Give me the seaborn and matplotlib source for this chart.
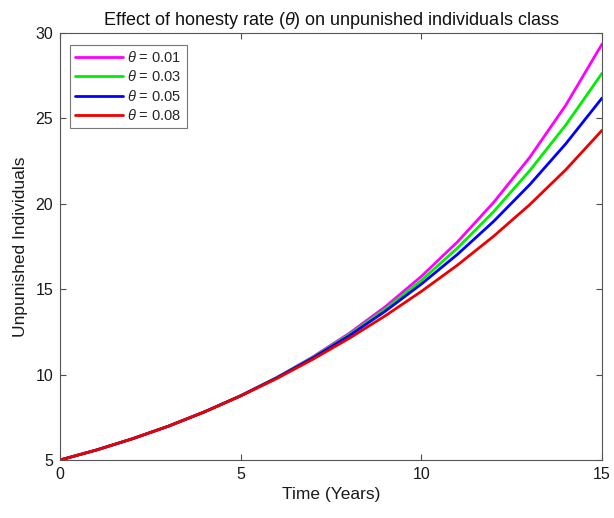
import numpy as np
import pandas as pd
import matplotlib
matplotlib.use("Agg")
import matplotlib.pyplot as plt
import seaborn as sns

# ---- data ----
time_years = [0, 1, 2, 3, 4, 5, 6, 7, 8, 9, 10, 11, 12, 13, 14, 15]
theta_labels = ["0.01", "0.03", "0.05", "0.08"]
u_theta_001 = [5.0, 5.58, 6.24, 6.98, 7.82, 8.76, 9.83, 11.04, 12.41, 13.97, 15.75, 17.77, 20.08, 22.72, 25.78, 29.35]
u_theta_003 = [5.0, 5.58, 6.24, 6.98, 7.82, 8.76, 9.82, 11.01, 12.34, 13.83, 15.51, 17.41, 19.54, 21.94, 24.62, 27.64]
u_theta_005 = [5.0, 5.58, 6.24, 6.98, 7.82, 8.76, 9.81, 10.98, 12.27, 13.71, 15.30, 17.04, 18.97, 21.12, 23.52, 26.19]
u_theta_008 = [5.0, 5.58, 6.24, 6.98, 7.82, 8.75, 9.77, 10.90, 12.12, 13.44, 14.87, 16.41, 18.10, 19.95, 22.00, 24.30]
series = [u_theta_001, u_theta_003, u_theta_005, u_theta_008]
line_colors = ["#ff00ff", "#00ee00", "#0000ff", "#ee0000"]

rows = []
for lab, vals in zip(theta_labels, series):
    name = r"$\theta$ = " + lab
    for t, v in zip(time_years, vals):
        rows.append({"Time": t, "Value": v, "theta": name})
df = pd.DataFrame(rows)
hue_order = [r"$\theta$ = " + l for l in theta_labels]

sns.set_theme(style="white")
plt.rcParams["font.family"] = ["Liberation Sans", "DejaVu Sans"]
plt.rcParams["mathtext.fontset"] = "custom"
plt.rcParams["mathtext.it"] = "Liberation Sans:italic"
plt.rcParams["mathtext.rm"] = "Liberation Sans"

fig = plt.figure(figsize=(6.14, 5.18), dpi=100)
ax = fig.add_axes([60 / 614, 1 - 460 / 518, 542 / 614, 427 / 518])

sns.lineplot(data=df, x="Time", y="Value", hue="theta", hue_order=hue_order,
             palette=line_colors, linewidth=2.0, ax=ax, legend=True)

ax.set_xlim(0, 15)
ax.set_ylim(5, 30)
ax.set_xticks([0, 5, 10, 15])
ax.set_yticks([5, 10, 15, 20, 25, 30])
ax.tick_params(direction="in", length=4, width=0.8, color="#4d4d4d",
               labelsize=11.5, labelcolor="#1a1a1a", top=True, right=True,
               bottom=True, left=True, pad=5)
for s in ax.spines.values():
    s.set_visible(True)
    s.set_color("#555555")
    s.set_linewidth(0.8)

ax.set_xlabel("Time (Years)", fontsize=12.5, color="#1a1a1a", labelpad=4)
ax.set_ylabel("Unpunished Individuals", fontsize=12.5, color="#1a1a1a", labelpad=5)
ax.set_title(r"Effect of honesty rate ($\theta$) on unpunished individuals class",
             fontsize=13, color="#111111", pad=6)

leg = ax.legend(loc="upper left", bbox_to_anchor=(0.018, 0.972), fontsize=10.5,
                frameon=True, fancybox=False, handlelength=3.3, handletextpad=0.3,
                labelspacing=0.3, borderpad=0.35, borderaxespad=0.0)
leg.get_frame().set_edgecolor("#555555")
leg.get_frame().set_linewidth(0.8)
leg.set_title(None)

fig.savefig("out.png", dpi=100)
